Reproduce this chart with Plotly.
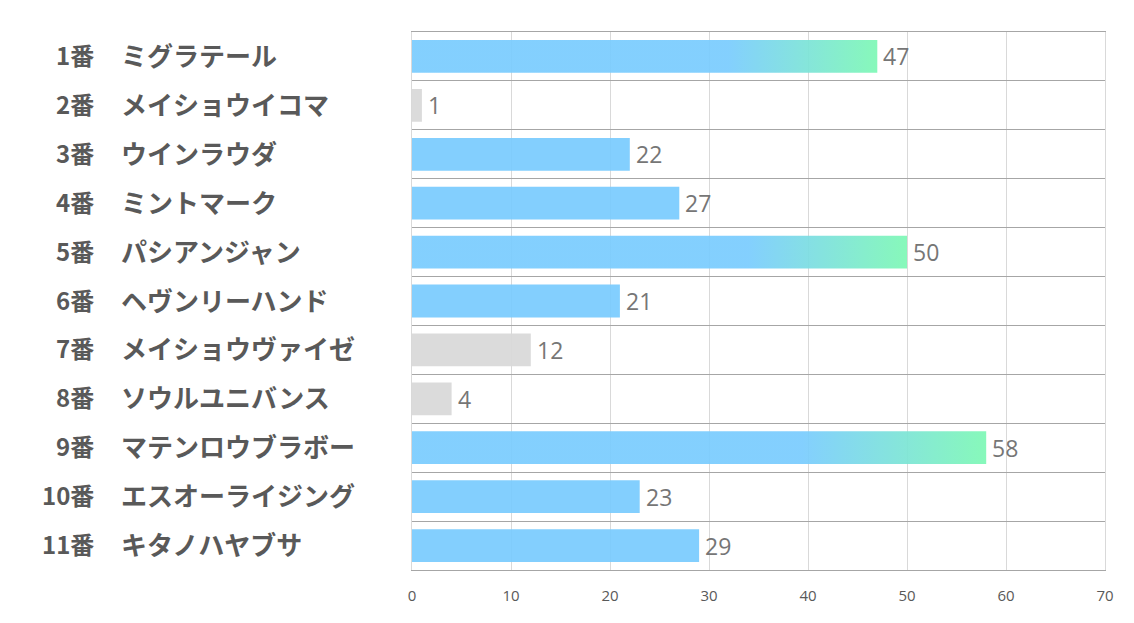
import plotly.graph_objects as go

numbers = ["1番", "2番", "3番", "4番", "5番", "6番", "7番", "8番", "9番", "10番", "11番"]
names = ["ミグラテール", "メイショウイコマ", "ウインラウダ", "ミントマーク", "パシアンジャン",
         "ヘヴンリーハンド", "メイショウヴァイゼ", "ソウルユニバンス",
         "マテンロウブラボー", "エスオーライジング", "キタノハヤブサ"]
values = [47, 1, 22, 27, 50, 21, 12, 4, 58, 23, 29]
x_ticks = [0, 10, 20, 30, 40, 50, 60, 70]

BLUE = "#7ACCFE"
GREEN = "#7EF8B5"
GRAY = "#D9D9D9"
HALF = 0.335

n = len(values)
order = sorted(range(n), key=lambda i: values[i])
low = set(order[:3])
high = set(order[-3:])

fig = go.Figure()

plain_idx = [i for i in range(n) if i not in high]
fig.add_trace(go.Bar(
    x=[values[i] for i in plain_idx], y=plain_idx, orientation="h",
    width=2 * HALF,
    marker=dict(color=[GRAY if i in low else BLUE for i in plain_idx], line=dict(width=0)),
    opacity=0.93, showlegend=False, hoverinfo="x",
))

for i in sorted(high):
    v = values[i]
    fig.add_trace(go.Scatter(
        x=[0, v, v, 0, 0], y=[i - HALF, i - HALF, i + HALF, i + HALF, i - HALF],
        mode="lines", line=dict(width=0), fill="toself",
        fillgradient=dict(type="horizontal",
                          colorscale=[[0, BLUE], [0.68, BLUE], [1, GREEN]]),
        opacity=0.93, showlegend=False, hoverinfo="skip",
    ))

L, R, T, B = 412, 29, 32, 53
W = 1134 - L - R

annotations = []
for i in range(n):
    annotations.append(dict(
        x=values[i], xref="x", y=i, yref="y", text=str(values[i]),
        xanchor="left", yanchor="middle", xshift=4, yshift=0, showarrow=False,
        font=dict(family="Open Sans, sans-serif", size=23, color="#767676")))
    annotations.append(dict(
        x=(96 - L) / W, xref="paper", y=i, yref="y", text=f"<b>{numbers[i]}</b>",
        xanchor="right", yanchor="middle", yshift=2, showarrow=False,
        font=dict(family="Noto Sans CJK JP", size=24, color="#595959")))
    annotations.append(dict(
        x=(119 - L) / W, xref="paper", y=i, yref="y", text=f"<b>{names[i]}</b>",
        xanchor="left", yanchor="middle", yshift=2, showarrow=False,
        font=dict(family="Noto Sans CJK JP", size=26, color="#595959")))

fig.update_layout(
    width=1134, height=623,
    margin=dict(l=L, r=R, t=T, b=B),
    plot_bgcolor="white", paper_bgcolor="white",
    annotations=annotations,
    xaxis=dict(range=[0, 70], tickvals=x_ticks, showgrid=True, gridcolor="#D9D9D9",
               gridwidth=1, zeroline=False, showline=True, mirror=True,
               linecolor="#A6A6A6", linewidth=1.3, ticks="", ticklabelstandoff=12,
               tickfont=dict(family="Open Sans, sans-serif", size=15, color="#595959")),
    yaxis=dict(range=[n - 0.5, -0.5], tickvals=[k - 0.5 for k in range(n + 1)],
               showticklabels=False, showgrid=True, gridcolor="#A6A6A6", gridwidth=1.3,
               zeroline=False, showline=True, mirror=True, linecolor="#D9D9D9",
               linewidth=1, ticks=""),
)

fig.write_html("out.html")
